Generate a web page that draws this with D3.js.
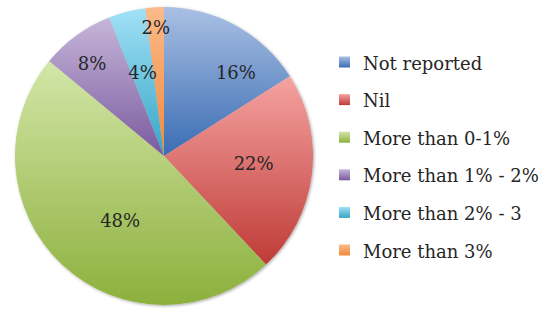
<!DOCTYPE html>
<html>
<head>
<meta charset="utf-8">
<script src="https://cdn.jsdelivr.net/npm/d3@7"></script>
<style>
  body { margin: 0; background: #fff; }
  svg text { font-family: "DejaVu Serif", serif; fill: #262626; }
</style>
</head>
<body>
<div id="chart"></div>
<script>
// chart data
const categories = ['Not reported', 'Nil', 'More than 0-1%', 'More than 1% - 2%', 'More than 2% - 3', 'More than 3%'];
const shares = [16, 22, 48, 8, 4, 2];
const percentLabels = ['16%', '22%', '48%', '8%', '4%', '2%'];

// gradient stops per slice (light top, dark bottom)
const lightColors = ['#a9c0e3', '#f5a3a1', '#d3e6a8', '#c6b6da', '#a2e1f6', '#fbba8a'];
const darkColors = ['#3a6cb4', '#bf3b37', '#8cb03c', '#7a5a9e', '#35a5c6', '#f0893a'];

const width = 551, height = 310;
const cx = 164, cy = 156, radius = 149;

// label placement tweaks (radius, angle nudge in degrees) to mimic Excel's best fit
const labelRadius = [110, 90, 78, 117, 86, 129];
const labelNudge = [12, -2, -9, -2, 0, 0];

const svg = d3.select('#chart').append('svg')
    .attr('width', width)
    .attr('height', height);

const defs = svg.append('defs');

categories.forEach((c, i) => {
    const g = defs.append('linearGradient')
        .attr('id', 'grad' + i)
        .attr('x1', 0).attr('y1', 0)
        .attr('x2', 0).attr('y2', 1);
    g.append('stop').attr('offset', '0%').attr('stop-color', lightColors[i]);
    g.append('stop').attr('offset', '100%').attr('stop-color', darkColors[i]);
});

const shadow = defs.append('filter')
    .attr('id', 'shadow')
    .attr('x', '-10%').attr('y', '-10%')
    .attr('width', '120%').attr('height', '120%');
shadow.append('feDropShadow')
    .attr('dx', 1).attr('dy', 1)
    .attr('stdDeviation', 1.5)
    .attr('flood-color', '#000')
    .attr('flood-opacity', 0.35);

const pie = d3.pie().sort(null).value(d => d);
const arcs = pie(shares);

const arc = d3.arc().innerRadius(0).outerRadius(radius);

const g = svg.append('g')
    .attr('transform', `translate(${cx},${cy})`);

g.append('g')
    .attr('filter', 'url(#shadow)')
    .selectAll('path')
    .data(arcs)
    .enter()
    .append('path')
    .attr('d', arc)
    .attr('fill', (d, i) => `url(#grad${i})`);

// percentage labels
g.selectAll('.pct')
    .data(arcs)
    .enter()
    .append('text')
    .attr('class', 'pct')
    .attr('text-anchor', 'middle')
    .attr('dy', '0.35em')
    .attr('font-size', 18)
    .attr('transform', (d, i) => {
        const a = (d.startAngle + d.endAngle) / 2 + labelNudge[i] * Math.PI / 180;
        const r = labelRadius[i];
        return `translate(${r * Math.sin(a)},${-r * Math.cos(a)})`;
    })
    .text((d, i) => percentLabels[i]);

// legend
const legendY = d3.scalePoint()
    .domain(categories)
    .range([62.5, 250.5]);

const legend = svg.append('g')
    .attr('transform', 'translate(339,0)');

const item = legend.selectAll('.item')
    .data(categories)
    .enter()
    .append('g')
    .attr('class', 'item')
    .attr('transform', d => `translate(0,${legendY(d)})`);

item.append('rect')
    .attr('x', 0)
    .attr('y', -6)
    .attr('width', 11)
    .attr('height', 11)
    .attr('fill', (d, i) => `url(#grad${i})`);

item.append('text')
    .attr('x', 24)
    .attr('y', 7)
    .attr('font-size', 18)
    .text(d => d);
</script>
</body>
</html>
